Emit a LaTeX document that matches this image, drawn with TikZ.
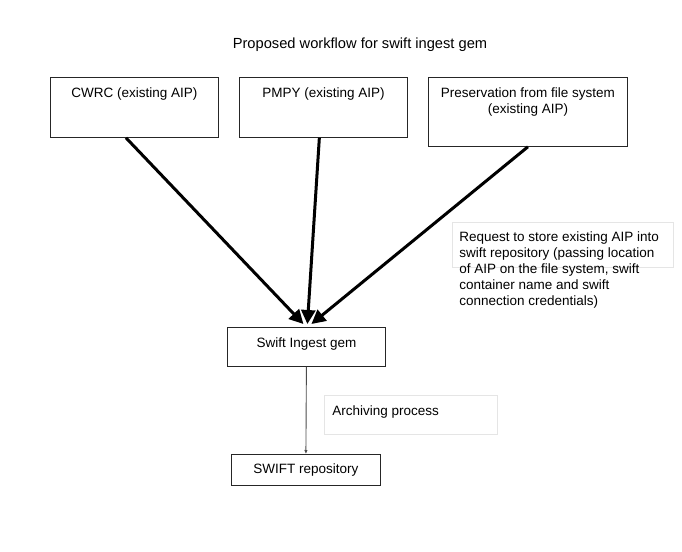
\documentclass[tikz,border=0pt]{standalone}
\usepackage{fontspec}
\setmainfont{Liberation Sans}
\usetikzlibrary{arrows.meta,calc}

\tikzset{
  box/.style={draw=black!85, line width=0.8pt, inner sep=0pt, anchor=north west},
  notebox/.style={draw=black!10, line width=0.6pt, inner sep=0pt, anchor=north west},
  feed/.style={line width=3pt, -{Triangle[length=14pt,width=14pt]}},
  archive/.style={line width=0.9pt, black!70, -{Latex[length=4pt,width=3.5pt]}}
}

\begin{document}
\begin{tikzpicture}[x=1pt,y=-1pt, font=\fontsize{13.5}{16}\selectfont]
\useasboundingbox (0,0) rectangle (682,551);

\node (title) [font=\fontsize{14.67}{16}\selectfont] at (360,45) {Proposed workflow for swift ingest gem};

% source systems
\node (cwrc) [box] at (50,77) {\parbox[c][60pt][t]{168pt}{\centering\vspace{9pt}\strut CWRC (existing AIP)}};
\node (pmpy) [box] at (239,77) {\parbox[c][60pt][t]{168pt}{\centering\vspace{9pt}\strut PMPY (existing AIP)}};
\node (pres) [box] at (428,77) {\parbox[c][69pt][t]{199pt}{\centering\vspace{9pt}\strut Preservation from file system\\(existing AIP)}};

% gem and repository
\node (ingest) [box] at (227,327) {\parbox[c][39pt][t]{158pt}{\centering\vspace{9pt}\strut Swift Ingest gem}};
\node (repo) [box, anchor=north west] at (231,454) {\parbox[c][31pt][c]{149pt}{\centering\vspace{1pt}SWIFT repository}};

% labels
\node (request) [notebox] at (452,222) {\parbox[c][45pt][t]{221pt}{\raggedright\leftskip=7pt\rightskip=-40pt plus 1fil\vspace{7.5pt}\strut Request to store existing AIP into\\swift repository (passing location\\of AIP on the file system, swift\\container name and swift\\connection credentials)}};
\node (archiving) [notebox] at (324,395) {\parbox[c][39pt][t]{173pt}{\raggedright\leftskip=8pt\vspace{9pt}\strut Archiving process}};

\draw [feed] ($(cwrc.south west)!0.45!(cwrc.south east)$) -- ($(ingest.north)+(-3,-3)$);
\draw [feed] ($(pmpy.south west)!0.476!(pmpy.south east)$) -- ($(ingest.north)+(1,-3)$);
\draw [feed] (pres.south) -- ($(ingest.north)+(5,-3)$);
\draw [archive] (ingest.south) -- (repo.north);
\end{tikzpicture}
\end{document}
